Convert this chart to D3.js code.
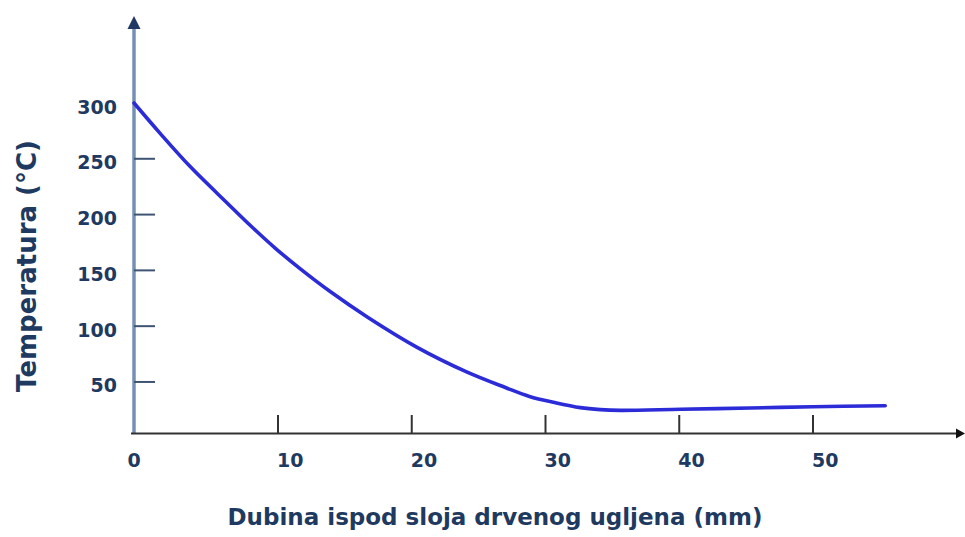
<!DOCTYPE html>
<html>
<head>
<meta charset="utf-8">
<script src="https://cdn.jsdelivr.net/npm/d3@7"></script>
<style>
html,body{margin:0;padding:0;background:#fff;}
svg{display:block;}
</style>
</head>
<body>
<script>
// Data
const depth = [0, 1.8, 3.9, 6.5, 8.1, 9.8, 11.6, 13.9, 16.7, 20.4, 24.1, 27, 28.8, 30.7, 32.6, 34.1, 35.6, 40.1, 45.3, 50, 55.4];
const temperature = [300, 273, 243, 210, 190, 170, 152, 131, 108, 81, 59, 45, 37, 31.5, 27, 25.2, 24.5, 25.5, 26.7, 27.8, 28.7];
const xTickValues = [0, 10, 20, 30, 40, 50];
const yTickValues = [50, 100, 150, 200, 250, 300];
const xTitle = "Dubina ispod sloja drvenog ugljena (mm)";
const yTitle = "Temperatura (°C)";

const W = 965, H = 537;
const svg = d3.select("body").append("svg").attr("width", W).attr("height", H);

const x = d3.scaleLinear().domain([0, 10, 50]).range([134, 278, 813]);
const y = d3.scaleLinear().domain([0, 300]).range([437.75, 103]);

const axisY0 = 433.5;
const textColor = "#1f3a60";
const font = "'DejaVu Sans', Verdana, sans-serif";

// Y axis line with arrow
svg.append("line").attr("x1", 134).attr("x2", 134).attr("y1", 28).attr("y2", axisY0)
  .attr("stroke", "#7590b3").attr("stroke-width", 3.5);
svg.append("path").attr("d", "M134,16 L140.5,29 L127.5,29 Z").attr("fill", "#1f3864");

// Y ticks (no tick at 300)
svg.selectAll(".ytick").data(yTickValues.filter(v => v < 300)).enter().append("line")
  .attr("x1", 134).attr("x2", 155)
  .attr("y1", d => y(d)).attr("y2", d => y(d))
  .attr("stroke", "#3d5573").attr("stroke-width", 2);

svg.selectAll(".ylab").data(yTickValues).enter().append("text")
  .attr("x", 117).attr("y", d => y(d) + 10.5)
  .attr("text-anchor", "end")
  .attr("font-family", font).attr("font-weight", "bold").attr("font-size", 19)
  .attr("fill", textColor)
  .text(d => d);

// X axis line with arrow
svg.append("line").attr("x1", 131).attr("x2", 958).attr("y1", axisY0).attr("y2", axisY0)
  .attr("stroke", "#333").attr("stroke-width", 2.2);
svg.append("path").attr("d", `M965,${axisY0} L956,${axisY0 - 5} L956,${axisY0 + 5} Z`).attr("fill", "#111");

svg.selectAll(".xtick").data(xTickValues.filter(v => v > 0)).enter().append("line")
  .attr("x1", d => x(d)).attr("x2", d => x(d))
  .attr("y1", 415).attr("y2", axisY0)
  .attr("stroke", "#333").attr("stroke-width", 2);

svg.selectAll(".xlab").data(xTickValues).enter().append("text")
  .attr("x", d => d === 0 ? x(d) : x(d) - 1)
  .attr("y", 466.5)
  .attr("text-anchor", d => d === 0 ? "middle" : "start")
  .attr("font-family", font).attr("font-weight", "bold").attr("font-size", 19)
  .attr("fill", textColor)
  .text(d => d);

// Curve
const line = d3.line().x((d, i) => x(depth[i])).y(d => y(d)).curve(d3.curveCatmullRom.alpha(0.5));
svg.append("path").datum(temperature).attr("d", line)
  .attr("fill", "none").attr("stroke", "#2b2bd8").attr("stroke-width", 3.6)
  .attr("stroke-linecap", "round").attr("stroke-linejoin", "round");

// Titles
svg.append("text").attr("x", 495).attr("y", 525)
  .attr("text-anchor", "middle")
  .attr("font-family", font).attr("font-weight", "bold").attr("font-size", 23)
  .attr("fill", textColor).text(xTitle);

svg.append("text").attr("transform", "translate(36,266) rotate(-90)")
  .attr("text-anchor", "middle")
  .attr("font-family", font).attr("font-weight", "bold").attr("font-size", 26)
  .attr("fill", textColor).text(yTitle);
</script>
</body>
</html>
